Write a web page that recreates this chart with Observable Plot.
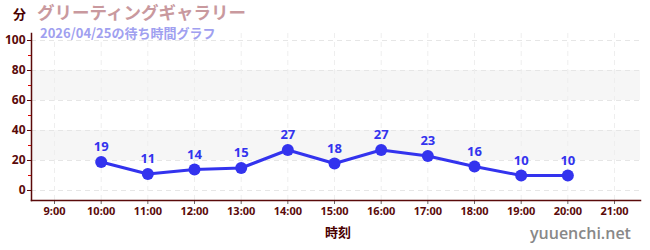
<!DOCTYPE html>
<html><head><meta charset="utf-8">
<script src="https://cdn.jsdelivr.net/npm/d3@7"></script>
<script src="https://cdn.jsdelivr.net/npm/@observablehq/plot@0.6"></script>
<style>
body{margin:0;background:#fff;font-family:"Noto Sans","Noto Sans CJK JP",sans-serif;}
#wrap{position:relative;width:650px;height:250px;overflow:hidden;}
.t{position:absolute;white-space:nowrap;font-family:"Noto Sans CJK JP","Noto Sans",sans-serif;font-weight:bold;}
</style></head><body>
<div id="wrap"></div>
<script>
const title = "グリーティングギャラリー";
const subtitle = "2026/04/25の待ち時間グラフ";
const yUnit = "分";
const xLabel = "時刻";
const watermark = "yuuenchi.net";
const hours = [10, 11, 12, 13, 14, 15, 16, 17, 18, 19, 20];
const waits = [19, 11, 14, 15, 27, 18, 27, 23, 16, 10, 10];
const xTicks = [9, 10, 11, 12, 13, 14, 15, 16, 17, 18, 19, 20, 21];
const yTicks = [0, 20, 40, 60, 80, 100];
const yMinor = [10, 30, 50, 70, 90];
const bandLo = [20, 60];
const bandHi = [40, 80];

const data = hours.map((h, i) => ({h, w: waits[i]}));
const bands = bandLo.map((lo, i) => ({lo, hi: bandHi[i]}));
const axisColor = "#5a0a0a";

const chart = Plot.plot({
  width: 650, height: 250,
  marginLeft: 31, marginRight: 10, marginTop: 33, marginBottom: 50,
  style: {fontFamily: "'Noto Sans', sans-serif", fontSize: "11px", background: "white"},
  x: {domain: [8.507, 21.557], axis: null, label: null},
  y: {domain: [-6.67, 104.67], axis: null, label: null},
  marks: [
    Plot.rectY(bands, {x1: 8.507, x2: 21.557, y1: "lo", y2: "hi", fill: "#f6f6f6"}),
    Plot.gridY(yTicks, {stroke: "#e6e6e6", strokeOpacity: 1, strokeDasharray: "5,4"}),
    Plot.gridX(xTicks, {stroke: "#eeeeee", strokeOpacity: 1, strokeDasharray: "5,4"}),
    Plot.axisY(yMinor, {tickSize: 3, text: null, stroke: "#d00", label: null}),
    Plot.axisY(yTicks, {tickSize: 4, stroke: axisColor, fill: axisColor, fontWeight: "bold", fontSize: 12, tickPadding: 2, label: null}),
    Plot.axisX(xTicks, {tickSize: 4, tickFormat: d => `${d}:00`, stroke: "#666", fill: axisColor, fontWeight: "bold", fontSize: 11, tickPadding: 3, label: null}),
    Plot.frame({anchor: "left", stroke: axisColor, strokeWidth: 1.5}),
    Plot.frame({anchor: "bottom", stroke: axisColor, strokeWidth: 1.5}),
    Plot.line(data, {x: "h", y: "w", stroke: "#3333ee", strokeWidth: 3}),
    Plot.dot(data, {x: "h", y: "w", r: 6, fill: "#3333ee", stroke: "none"}),
    Plot.text(data, {x: "h", y: "w", text: d => String(d.w), dy: -15, fill: "#3333ee", fontWeight: "bold", fontSize: 13})
  ]
});
const wrap = document.getElementById("wrap");
wrap.appendChild(chart);

function add(text, css) {
  const d = document.createElement("div");
  d.className = "t";
  d.textContent = text;
  Object.assign(d.style, css);
  wrap.appendChild(d);
}
add(yUnit, {left: "13px", top: "6px", fontSize: "13px", color: "#4a0000", lineHeight: "16px"});
add(title, {left: "37px", top: "1.5px", fontSize: "17.5px", color: "#c9999e", lineHeight: "20px"});
add(subtitle, {left: "40px", top: "26px", fontSize: "13px", color: "#a0a0f0", lineHeight: "14px"});
add(xLabel, {left: "325px", top: "224px", fontSize: "13px", color: "#4a0000", lineHeight: "16px"});
add(watermark, {left: "530px", top: "223px", fontSize: "16px", color: "#888", fontFamily: "'Open Sans',sans-serif", fontWeight: "600", lineHeight: "20px"});
</script>
</body></html>
